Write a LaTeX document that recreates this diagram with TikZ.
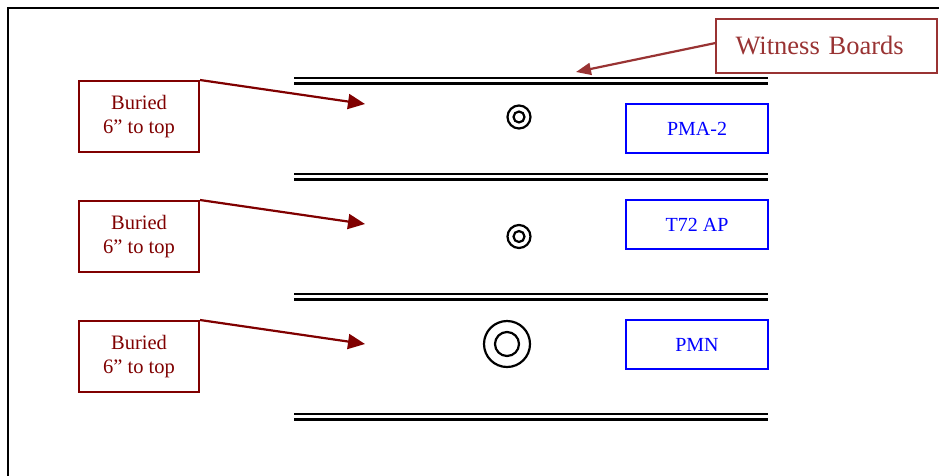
\documentclass[tikz,border=0pt]{standalone}
\usepackage{fontspec}
\setmainfont{Liberation Serif}
\usetikzlibrary{arrows.meta}
\definecolor{burred}{RGB}{128,0,0}
\definecolor{witred}{RGB}{153,51,51}
\definecolor{mblue}{RGB}{0,0,255}
\begin{document}
\begin{tikzpicture}[x=1pt,y=-1pt,
  buriedbox/.style={draw=burred,line width=2pt,text=burred,minimum width=120pt,minimum height=71pt,inner sep=0pt,align=center,font=\fontsize{20.5}{24.5}\selectfont},
  minebox/.style={draw=mblue,line width=2pt,text=mblue,minimum width=142pt,minimum height=49pt,inner sep=0pt,font=\fontsize{20}{24}\selectfont},
  witbox/.style={draw=witred,line width=2pt,text=witred,minimum height=54pt,inner xsep=20pt,inner ysep=0pt,text width=181pt,align=left,font=\fontsize{26.5}{30}\selectfont},
  buriedarrow/.style={draw=burred,line width=2.2pt,-{Triangle[length=17pt,width=15pt]}},
  witarrow/.style={draw=witred,line width=2.2pt,-{Triangle[length=15pt,width=12pt]}},
  boardline/.style={line width=2.7pt},
  ring/.style={draw,line width=2.2pt}]
\useasboundingbox (0,0) rectangle (939,475);
\fill[white] (0,0) rectangle (939,475);
% frame
\draw[line width=2.8pt] (8,490) -- (8,8) -- (960,8);
% board double lines
\foreach \ya/\yb in {78/83.3,174/179.3,294/299.3,414/419.3}{
  \draw[boardline] (294,\ya) -- (768,\ya);
  \draw[boardline] (294,\yb) -- (768,\yb);
}
% mines
\draw[ring] (519,117) circle (11.5);
\draw[ring] (519,117) circle (5.5);
\draw[ring] (519,236.5) circle (11.5);
\draw[ring] (519,236.5) circle (5.5);
\draw[ring] (507,344) circle (23);
\draw[ring] (507,344) circle (12);
% labels
\node[buriedbox] (b1) at (139,116.5) {Buried\\6” to top};
\node[buriedbox] (b2) at (139,236.5) {Buried\\6” to top};
\node[buriedbox] (b3) at (139,356.5) {Buried\\6” to top};
\node[minebox] (m1) at (697,128.5) {PMA-2};
\node[minebox] (m2) at (697,224.5) {T72 AP};
\node[minebox] (m3) at (697,344.5) {PMN};
\node[witbox] (w) at (826,45.5) {Witness Boards};
% arrows
\coordinate (t1) at (365,104);
\coordinate (t2) at (365,224);
\coordinate (t3) at (365,344);
\coordinate (tw) at (576,72);
\coordinate (wstart) at (715.5,43);
\draw[buriedarrow] (b1.north east) -- (t1);
\draw[buriedarrow] (b2.north east) -- (t2);
\draw[buriedarrow] (b3.north east) -- (t3);
\draw[witarrow] (wstart) -- (tw);
\end{tikzpicture}
\end{document}
